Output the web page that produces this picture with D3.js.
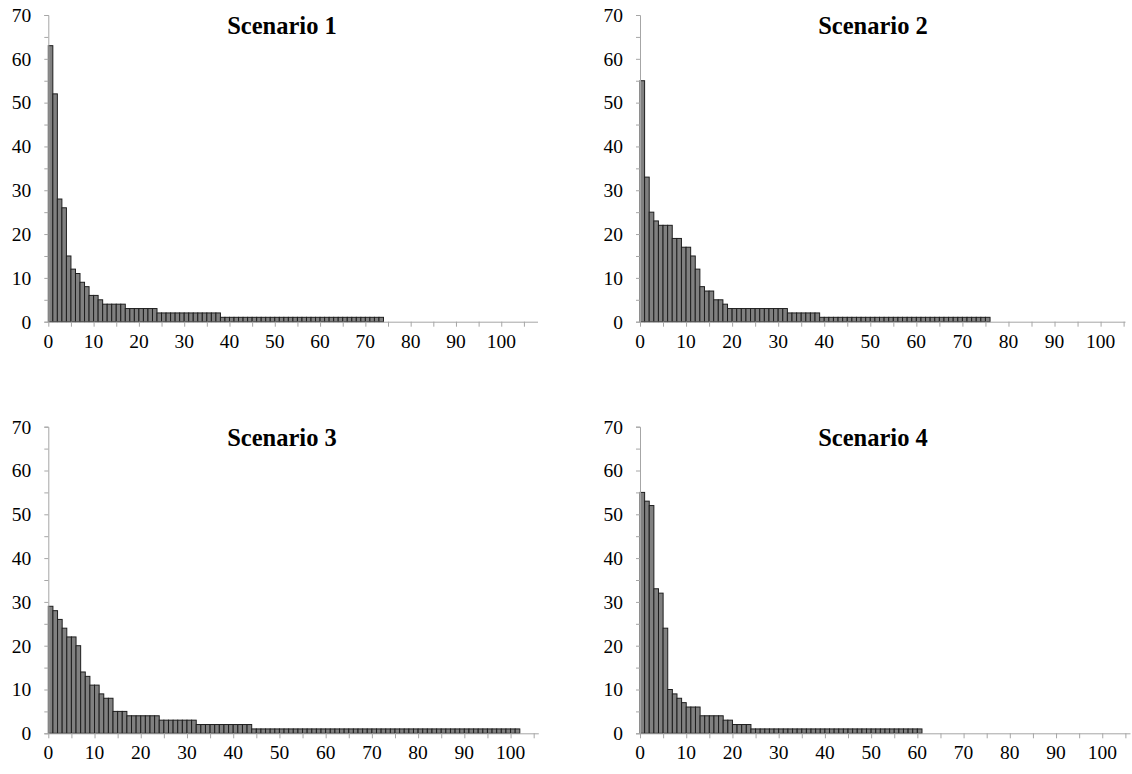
<!DOCTYPE html>
<html lang="en">
<head>
<meta charset="UTF-8">
<title>Scenarios</title>
<script src="https://d3js.org/d3.v7.min.js"></script>
<style>
    body { margin: 0; background: #fff; }
    text { font-family: "Liberation Serif", "Times New Roman", serif; fill: #000; }
    .title { font-size: 24.5px; font-weight: bold; }
    .tick-label { font-size: 19.5px; }
    .bar { fill: #808080; stroke: #1e1e1e; stroke-width: 1px; }
</style>
</head>
<body>
<svg id="chart" width="1132" height="774"></svg>
<script>
// values, one per bar (index 0..n-1)
const titles = ["Scenario 1", "Scenario 2", "Scenario 3", "Scenario 4"];

const scenario1 = [63, 52, 28, 26, 15, 12, 11, 9, 8, 6, 6, 5, 4, 4, 4, 4, 4,
    3, 3, 3, 3, 3, 3, 3,
    2, 2, 2, 2, 2, 2, 2, 2, 2, 2, 2, 2, 2, 2,
    1, 1, 1, 1, 1, 1, 1, 1, 1, 1, 1, 1, 1, 1, 1, 1, 1, 1,
    1, 1, 1, 1, 1, 1, 1, 1, 1, 1, 1, 1, 1, 1, 1, 1, 1, 1];

const scenario2 = [55, 33, 25, 23, 22, 22, 22, 19, 19, 17, 17, 15, 12, 8, 7, 7, 5, 5, 4,
    3, 3, 3, 3, 3, 3, 3, 3, 3, 3, 3, 3, 3,
    2, 2, 2, 2, 2, 2, 2,
    1, 1, 1, 1, 1, 1, 1, 1, 1, 1, 1, 1, 1, 1, 1, 1, 1, 1, 1,
    1, 1, 1, 1, 1, 1, 1, 1, 1, 1, 1, 1, 1, 1, 1, 1, 1, 1];

const scenario3 = [29, 28, 26, 24, 22, 22, 20, 14, 13, 11, 11, 9, 8, 8, 5, 5, 5,
    4, 4, 4, 4, 4, 4, 4,
    3, 3, 3, 3, 3, 3, 3, 3,
    2, 2, 2, 2, 2, 2, 2, 2, 2, 2, 2, 2,
    1, 1, 1, 1, 1, 1, 1, 1, 1, 1, 1, 1, 1, 1, 1, 1, 1, 1, 1, 1,
    1, 1, 1, 1, 1, 1, 1, 1, 1, 1, 1, 1, 1, 1, 1, 1, 1, 1, 1, 1,
    1, 1, 1, 1, 1, 1, 1, 1, 1, 1, 1, 1, 1, 1, 1, 1, 1, 1];

const scenario4 = [55, 53, 52, 33, 32, 24, 10, 9, 8, 7, 6, 6, 6, 4, 4, 4, 4, 4, 3, 3, 2, 2, 2, 2,
    1, 1, 1, 1, 1, 1, 1, 1, 1, 1, 1, 1, 1, 1, 1, 1, 1, 1, 1,
    1, 1, 1, 1, 1, 1, 1, 1, 1, 1, 1, 1, 1, 1, 1, 1, 1, 1];

const yTickLabels = [0, 10, 20, 30, 40, 50, 60, 70];
const xTickLabels = [0, 10, 20, 30, 40, 50, 60, 70, 80, 90, 100];
const xAxisMax = [108, 105.3, 106, 106];

const series = [scenario1, scenario2, scenario3, scenario4];

// panel frames in pixels
const panels = [
    { left: 48.3, right: 537.5, top: 15, bottom: 321.7, titleX: 282 },
    { left: 640, right: 1125, top: 15, bottom: 321.7, titleX: 873 },
    { left: 48.3, right: 538.3, top: 426.7, bottom: 733.3, titleX: 282 },
    { left: 640, right: 1130, top: 426.7, bottom: 733.3, titleX: 873 }
];

const svg = d3.select("#chart");

panels.forEach((p, k) => {
    const data = series[k];
    const x = d3.scaleLinear().domain([0, xAxisMax[k]]).range([p.left, p.right]);
    const y = d3.scaleLinear().domain([0, 70]).range([p.bottom, p.top]);
    const g = svg.append("g");

    // bars (each bar spans index i..i+1)
    g.selectAll(".bar")
        .data(data)
        .enter().append("rect")
        .attr("class", "bar")
        .attr("x", (d, i) => x(i))
        .attr("width", (d, i) => x(i + 1) - x(i))
        .attr("y", d => y(d))
        .attr("height", d => y(0) - y(d));

    // y axis
    const yAxis = d3.axisLeft(y).tickValues(d3.range(0, 71, 5)).tickSize(4).tickFormat("");
    const ya = g.append("g").attr("transform", `translate(${p.left},0)`).call(yAxis);
    ya.select(".domain").attr("stroke", "#a6a6a6");
    ya.selectAll(".tick line").attr("stroke", "#a6a6a6");

    g.selectAll(".ylab")
        .data(yTickLabels)
        .enter().append("text")
        .attr("class", "tick-label")
        .attr("x", p.left - 17)
        .attr("y", d => y(d))
        .attr("dy", "0.35em")
        .attr("text-anchor", "end")
        .text(d => d);

    // x axis
    const xAxis = d3.axisBottom(x).tickValues(d3.range(0, 106, 5)).tickSize(5).tickSizeOuter(0).tickFormat("");
    const xa = g.append("g").attr("transform", `translate(0,${p.bottom})`).call(xAxis);
    xa.select(".domain").attr("stroke", "#a6a6a6");
    xa.selectAll(".tick line").attr("stroke", "#a6a6a6");

    g.selectAll(".xlab")
        .data(xTickLabels)
        .enter().append("text")
        .attr("class", "tick-label")
        .attr("x", d => x(d))
        .attr("y", p.bottom + 26)
        .attr("text-anchor", "middle")
        .text(d => d);

    g.append("text")
        .attr("class", "title")
        .attr("x", p.titleX)
        .attr("y", p.top + 19)
        .attr("text-anchor", "middle")
        .text(titles[k]);
});
</script>
</body>
</html>
